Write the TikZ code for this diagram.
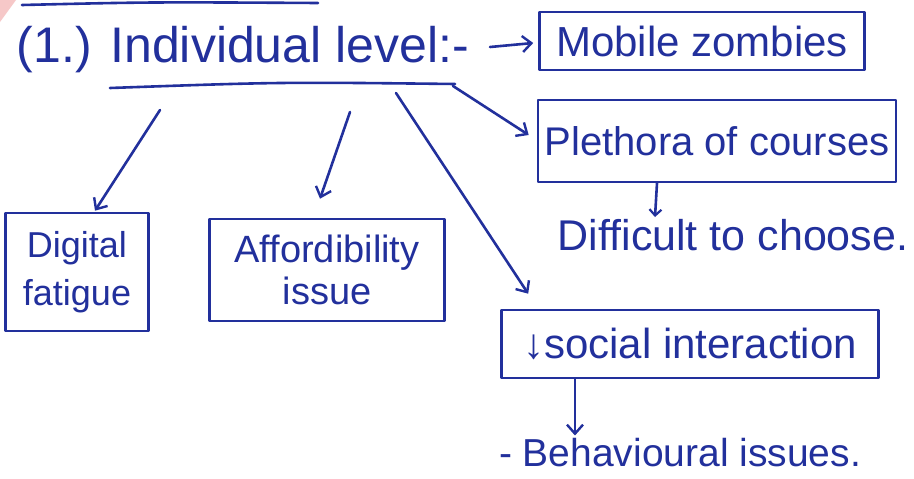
\documentclass[tikz,border=0pt]{standalone}
\usepackage{fontspec}
\setmainfont{Liberation Sans}
\usetikzlibrary{arrows.meta}
\definecolor{ink}{RGB}{34,48,156}
\definecolor{smudge}{RGB}{246,200,200}
\tikzset{
  ink line/.style={draw=ink, line width=2.6pt, line cap=round, line join=round},
  arr/.style={ink line, -{Straight Barb[length=9pt,width=16pt,line width=2.4pt]}},
  box/.style={ink line, rectangle, inner sep=0pt, text=ink, align=center},
  word/.style={text=ink, inner sep=0pt, align=center},
}
\begin{document}
\begin{tikzpicture}[x=1pt,y=-1pt]
  \useasboundingbox (0,0) rectangle (914,479);
  \fill[white] (0,0) rectangle (914,479);
  % corner of the page and the rule left over from the heading above
  \fill[smudge] (0,0) -- (16,0) -- (0,22) -- cycle;
  \draw[ink line] (22,5) .. controls (150,2) .. (318,3);

  % heading and its underline
  \node[word, font=\fontsize{50}{54}\selectfont] (title) at (243,50) {(1.) Individual level:-};
  \draw[ink line] (110,88) .. controls (280,82) .. (455,84);
  \coordinate (u1) at (160,110);
  \coordinate (u2) at (350,112);
  \coordinate (u3) at (396,93);
  \coordinate (u4) at (453,86);
  \coordinate (t1) at (490,47);

  % boxes
  \node[box, minimum width=325pt, minimum height=58pt, font=\fontsize{42}{46}\selectfont] (mob) at (702,41) {Mobile zombies};
  \node[box, minimum width=358pt, minimum height=82pt, font=\fontsize{40}{44}\selectfont] (ple) at (717,141) {Plethora of courses};
  \node[box, minimum width=143pt, minimum height=118pt, font=\fontsize{36}{48}\selectfont] (dig) at (77,272) {Digital\\fatigue};
  \node[box, minimum width=235pt, minimum height=102pt, font=\fontsize{38}{42}\selectfont] (aff) at (327,270) {Affordibility\\issue};
  \node[box, minimum width=377pt, minimum height=68pt, font=\fontsize{42}{46}\selectfont] (soc) at (690,344) {↓social interaction};

  % free-standing notes
  \node[word, font=\fontsize{43}{46}\selectfont] (diff) at (733,235) {Difficult to choose.};
  \node[word, font=\fontsize{39}{42}\selectfont] (beh) at (680,453) {- Behavioural issues.};

  % connectors
  \draw[arr] (t1) -- ([xshift=-5pt,yshift=-2pt]mob.west);
  \draw[arr] (u4) -- ([xshift=-8pt,yshift=6pt]ple.west);
  \draw[arr] (u1) -- ([xshift=18pt,yshift=1pt]dig.north);
  \draw[arr] (u2) -- ([xshift=-7pt,yshift=19pt]aff.north);
  \draw[arr] (u3) -- ([xshift=28pt,yshift=15pt]soc.north west);
  \draw[ink line, -{Straight Barb[length=6pt,width=12pt,line width=2.2pt]}] ([xshift=-60pt]ple.south) -- ([xshift=-78pt,yshift=2pt]diff.north);
  \draw[arr] ([xshift=-115pt]soc.south) -- ([xshift=-105pt,yshift=3pt]beh.north);
\end{tikzpicture}
\end{document}
